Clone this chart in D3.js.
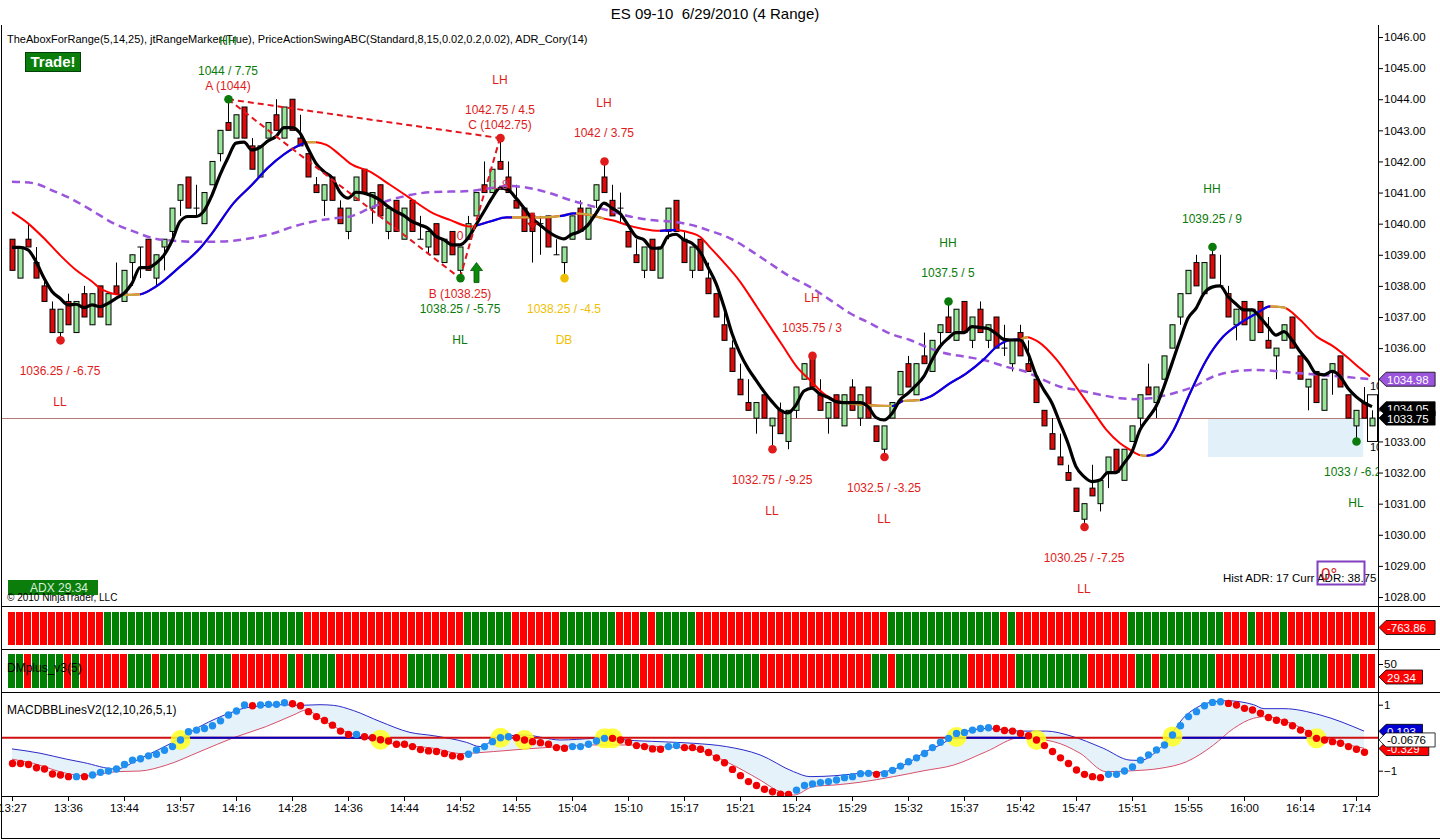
<!DOCTYPE html>
<html>
<head>
<meta charset="utf-8">
<title>ES 09-10 6/29/2010 (4 Range)</title>
<script src="https://cdn.jsdelivr.net/npm/d3@7"></script>
<style>
  body { margin: 0; background: #fff; }
  svg { display: block; }
</style>
</head>
<body>
<div id="chart"></div>
<script>
// ---- bars (4 range) ----
const opens = [
  1039.5,1038.25,1039.5,1038.75,1038,1037.25,1036.5,1037.5,1036.5,1037.75,
  1036.75,1038,1036.75,1038,1037.5,1038.75,1039.25,1039.5,1038.25,1039.25,
  1039.75,1040.75,1041.5,1040.5,1040,1041.25,1042.25,1043.25,1042.75,1043.75,
  1042.5,1041.5,1042.75,1043.5,1042.75,1044,1042.75,1042.25,1041.25,1040.75,
  1041.5,1040.5,1039.75,1040.75,1041.75,1040.5,1041.25,1039.75,1040.75,1039.5,
  1040.75,1039.5,1039.25,1040,1038.75,1039.75,1038.5,1039.5,1040.25,1041.25,
  1041,1042,1041.5,1040.75,1040.5,1040.25,1040,1040.25,1039,1038.75,
  1039.5,1040.5,1039.5,1040.75,1041.5,1040.75,1040.5,1039.75,1039,1038.5,
  1039.5,1038.25,1039.75,1040.75,1039.5,1038.5,1039.5,1038.25,1037.75,1036.75,
  1036,1035,1034.25,1033.75,1034.5,1033.5,1034,1033,1034,1035,
  1035.75,1034.5,1033.75,1034.5,1033.5,1034.75,1033.75,1034.75,1033.5,1032.75,
  1033.75,1034.5,1035.5,1034.5,1035.75,1035.25,1036.5,1037,1036.25,1037.5,
  1036.25,1037.25,1036.25,1037,1036,1035.5,1036.5,1035.5,1035,1034,
  1033.25,1032.5,1032,1031.5,1030.5,1031.5,1031,1032,1032.75,1031.75,
  1033,1033.75,1034.75,1034.25,1035,1036,1037,1037.75,1038.75,1037.75,
  1039,1038,1037.75,1036.75,1037.5,1036.25,1037.5,1036.25,1035.75,1036.25,
  1037,1035.75,1034.75,1035.25,1034,1035.25,1035.75,1034.5,1033.5,1034.25,
  1033.5
];
const highs = [
  1039.5,1039.25,1040,1039.25,1038.25,1037.5,1037.25,1037.75,1037.5,1038,
  1037.75,1038,1037.75,1038.75,1038.5,1039,1039.25,1039.5,1039,1039.5,
  1040.5,1041.25,1041.5,1041.25,1041,1042,1043,1044,1043.5,1043.75,
  1042.75,1042.5,1043.25,1044,1043.75,1044,1043.5,1042.25,1041.5,1041.25,
  1041.5,1040.75,1040.5,1041.5,1041.75,1041,1041.25,1040.5,1040.75,1040.5,
  1040.75,1040.25,1039.75,1040,1039.5,1039.75,1039.25,1040.25,1041,1042,
  1041.75,1042.75,1042,1041.25,1040.5,1040.25,1040.25,1040.25,1039.5,1039.25,
  1040.25,1040.75,1040.5,1041.25,1042,1041.25,1041,1039.75,1039.5,1039.25,
  1039.5,1039.25,1040.5,1040.75,1039.75,1039.25,1039.5,1038.75,1037.75,1037.25,
  1036.25,1035.5,1035,1034.25,1034.5,1033.75,1034.25,1034,1034.75,1035.5,
  1035.75,1035,1034.25,1034.5,1034.5,1035,1034.5,1034.75,1033.5,1033.5,
  1034.25,1035.25,1035.75,1035.5,1036.5,1036.25,1036.75,1037.5,1037.25,1037.5,
  1037,1037.5,1036.75,1037,1036.75,1036.25,1036.75,1036.25,1035,1034,
  1033.75,1033.25,1032.25,1031.5,1031,1032.25,1031.75,1032.5,1032.75,1032.75,
  1033.5,1034.5,1035.5,1034.75,1035.75,1036.75,1037.75,1038.5,1039,1038.75,
  1039.25,1039,1038,1037.25,1037.5,1037.25,1037.5,1037,1036,1036.75,
  1037,1035.75,1035,1035.25,1035,1035.5,1035.75,1034.5,1034,1034.75,
  1034
];
const lows = [
  1038.5,1038.25,1039.25,1038.25,1037.5,1036.5,1036.25,1036.75,1036.5,1037,
  1036.75,1037,1036.75,1037.75,1037.5,1038,1038.25,1038.5,1038,1038.5,
  1039.5,1040.25,1040.5,1040.25,1040,1041.25,1042,1043,1042.75,1042.75,
  1041.75,1041.5,1042.75,1043,1042.75,1043,1042.5,1041.5,1041,1040.25,
  1040.75,1040,1039.5,1040.75,1041,1040,1040.25,1039.5,1039.75,1039.5,
  1039.75,1039.5,1039,1039,1038.75,1039,1038.25,1039.5,1040.25,1041,
  1041,1041.75,1041,1040.5,1039.75,1038.75,1039,1039.25,1039,1038.25,
  1039.5,1039.75,1039.5,1040.5,1041,1040.25,1040,1039.25,1038.75,1038.25,
  1038.5,1038.25,1039.5,1039.75,1038.75,1038.25,1038.5,1037.75,1037,1036.25,
  1035.25,1034.5,1034,1033.25,1033.75,1032.75,1033.25,1032.75,1033.75,1035,
  1034.75,1034,1033.25,1033.75,1033.5,1034,1033.5,1033.75,1033,1032.5,
  1033.75,1034.5,1034.75,1034.5,1035.5,1035.25,1036,1036.5,1036.25,1036.5,
  1036,1036.5,1036,1036,1035.75,1035.25,1035.75,1035.25,1034.25,1033.5,
  1032.75,1032.25,1031.75,1030.75,1030.25,1031.25,1030.75,1031.5,1032,1031.75,
  1033,1033.5,1034.5,1033.75,1035,1036,1036.75,1037.75,1038,1037.75,
  1038.25,1038,1037,1036.25,1036.75,1036.25,1036.5,1036,1035,1036.25,
  1036,1035,1034,1034.25,1034,1034.5,1034.75,1033.75,1033,1033.75,
  1033.5
];
const closes = [
  1038.5,1039.25,1039.25,1038.25,1037.5,1036.5,1037.25,1036.75,1037.5,1037,
  1037.75,1037,1037.75,1037.75,1038.5,1039,1039.25,1038.5,1039,1039.5,
  1040.5,1041.25,1040.5,1040.5,1041,1042,1043,1043,1043.5,1042.75,
  1041.75,1042.5,1043.25,1043,1043.75,1043,1042.5,1041.5,1041,1041.25,
  1040.75,1040,1040.5,1041.5,1041,1041,1040.25,1040.5,1039.75,1040.5,
  1039.75,1039.5,1039.75,1039,1039.5,1039,1039.25,1040,1041,1041,
  1041.75,1041.75,1041,1040.5,1039.75,1039.75,1040,1039.25,1039,1039.25,
  1040.25,1039.75,1040.5,1041.25,1041,1040.25,1040.5,1039.25,1038.75,1039.25,
  1038.5,1039.25,1040.5,1039.75,1038.75,1039.25,1038.5,1037.75,1037,1036.25,
  1035.25,1034.5,1034,1034.25,1033.75,1033.75,1033.25,1034,1034.75,1035.5,
  1034.75,1034,1034.25,1033.75,1034.5,1034,1034.5,1033.75,1033,1033.5,
  1034.25,1035.25,1034.75,1035.5,1035.5,1036.25,1036.75,1036.5,1037.25,1036.5,
  1037,1036.5,1036.75,1036,1036,1036.25,1035.75,1035.25,1034.25,1033.5,
  1032.75,1032.25,1031.75,1030.75,1031,1031.25,1031.75,1032.5,1032,1032.75,
  1033.5,1034.5,1034.5,1034.75,1035.75,1036.75,1037.75,1038.5,1038,1038.75,
  1038.25,1038,1037,1037.25,1036.75,1037.25,1036.5,1036,1036,1036.75,
  1036,1035,1035,1034.25,1035,1035.5,1034.75,1033.75,1034,1033.75,
  1033.75
];

// ---- price indicators: [bar index, price] ----
const fastMA = [
  [0,1039.24],[1,1039.24],[2,1039.16],[3,1038.78],[4,1038.25],[5,1037.82],[6,1037.6],[7,1037.39],[8,1037.41],[9,1037.3],
  [10,1037.39],[11,1037.33],[12,1037.44],[13,1037.6],[14,1037.76],[15,1038.08],[16,1038.59],[17,1038.59],[18,1038.73],[19,1038.99],
  [20,1039.45],[21,1040.07],[22,1040.23],[23,1040.23],[24,1040.41],[25,1040.92],[26,1041.57],[27,1042.12],[28,1042.59],[29,1042.62],
  [30,1042.37],[31,1042.45],[32,1042.66],[33,1042.8],[34,1043.09],[35,1043.09],[36,1042.91],[37,1042.42],[38,1041.94],[39,1041.67],
  [40,1041.48],[41,1041.01],[42,1040.82],[43,1041.01],[44,1040.98],[46,1040.76],[47,1040.55],[48,1040.39],[49,1040.26],
  [50,1040.07],[51,1039.96],[52,1039.85],[53,1039.59],[54,1039.48],[55,1039.32],[56,1039.32],[57,1039.53],[58,1039.96],[59,1040.39],
  [60,1040.82],[61,1041.14],[62,1041.09],[63,1040.82],[64,1040.5],[65,1040.17],[66,1039.96],[67,1039.75],[68,1039.59],[69,1039.51],
  [70,1039.66],[71,1039.75],[72,1039.96],[73,1040.33],[74,1040.66],[75,1040.5],[76,1040.33],[77,1039.96],[78,1039.59],[79,1039.48],
  [80,1039.21],[81,1039.21],[82,1039.59],[83,1039.66],[84,1039.48],[85,1039.37],[86,1039.1],[87,1038.6],[88,1038.08],[89,1037.33],
  [90,1036.47],[91,1035.83],[92,1035.35],[93,1034.97],[94,1034.6],[95,1034.28],[96,1034.01],[97,1033.92],[98,1034.17],[99,1034.62],
  [100,1034.71],[101,1034.52],[102,1034.42],[103,1034.28],[104,1034.25],[105,1034.25],[106,1034.25],[107,1034.12],[108,1033.77],[109,1033.69],
  [110,1033.9],[111,1034.33],[112,1034.55],[113,1034.8],[114,1035.1],[115,1035.62],[116,1036.05],[117,1036.31],[118,1036.5],[119,1036.5],
  [120,1036.69],[121,1036.66],[122,1036.63],[123,1036.47],[124,1036.28],[125,1036.26],[126,1036.26],[127,1035.83],[128,1035.13],[129,1034.65],
  [130,1034.23],[131,1033.59],[132,1032.94],[133,1032.19],[134,1031.87],[135,1031.71],[136,1031.76],[137,1032.0],[138,1032.0],[139,1032.3],
  [140,1032.67],[141,1033.37],[142,1033.75],[143,1034.12],[144,1034.76],[145,1035.51],[146,1036.26],[147,1036.96],[148,1037.28],[149,1037.76],
  [150,1037.96],[151,1038.0],[152,1037.66],[153,1037.42],[154,1037.23],[155,1037.23],[156,1036.99],[157,1036.69],[158,1036.42],[159,1036.53],
  [160,1036.26],[161,1035.89],[162,1035.57],[163,1035.19],[164,1035.14],[165,1035.25],[166,1035.09],[167,1034.71],[168,1034.44],[169,1034.25],
  [170,1034.12]
];
const slowMA = [
  [0,1040.37],[2,1040.01],[4,1039.53],[6,1038.99],[8,1038.51],[10,1038.14],[11,1037.92],[12,1037.8],[13,1037.73],[14,1037.71],
  [16,1037.73],[18,1037.98],[21,1038.62],[23.5,1039.21],[25,1039.69],[27.7,1040.66],[30,1041.25],[32,1041.8],[34,1042.23],[36,1042.53],
  [37,1042.62],[38,1042.62],[39.3,1042.53],[41,1042.21],[42.25,1041.94],[44.75,1041.67],[47.25,1041.25],[49.75,1040.82],[52.25,1040.39],[54.75,1040.12],
  [57.25,1039.91],[59.75,1040.07],[61.8,1040.2],[63,1040.2],[66,1040.2],[68.9,1040.26],[70.2,1040.33],[72.25,1040.28],[73.9,1040.17],[75.6,1040.07],
  [76.8,1039.96],[78.9,1039.83],[81,1039.77],[83,1039.8],[84.75,1039.71],[86,1039.58],[87.25,1039.24],[88.9,1038.78],[91,1038.14],[93.1,1037.33],
  [94.75,1036.69],[96.4,1036.05],[98.1,1035.4],[99.75,1034.97],[101.4,1034.55],[103.5,1034.28],[106.8,1034.17],[110.1,1034.14],[111.4,1034.3],[113.5,1034.33],
  [114.75,1034.44],[117.25,1034.87],[119.3,1035.19],[121.4,1035.62],[123.1,1036.05],[124.75,1036.26],[126,1036.28],[126.9,1036.35],[128.3,1036.2],[130.6,1035.62],
  [132.7,1034.87],[134.75,1034.12],[136.8,1033.37],[138.5,1032.94],[139.75,1032.73],[141,1032.56],[141.8,1032.54],[143.5,1032.73],[145.2,1033.37],[147.25,1034.55],
  [149.3,1035.62],[151.4,1036.37],[153.5,1036.8],[155.6,1037.12],[157.25,1037.34],[158.9,1037.31],[161,1036.91],[163.1,1036.37],[165.2,1036.05],[166.8,1035.73],
  [168.5,1035.35],[169.75,1035.09]
];
// stretches where the slow average is drawn rising (blue) or flat (gold)
const slowRising = [[16,36.8],[58,62.5],[68.5,70.5],[81,83],[110,111.4],[113.5,126],[141.8,157.3]];
const slowFlat = [[13.5,16],[36.8,38],[57.5,58],[62.5,68.5],[70.5,74],[103.5,110],[111.4,113.5],[126,127],[141,141.8],[157.3,159.3]];
const longMA = [
  [0,1041.35],[2.7,1041.3],[5.2,1041.05],[7.7,1040.76],[10.2,1040.39],[12.7,1040.01],[15.2,1039.75],[17.7,1039.53],[20.2,1039.45],[22.7,1039.42],
  [25.2,1039.42],[27.7,1039.45],[30.2,1039.55],[32.7,1039.69],[35.2,1039.91],[37.7,1040.07],[40.2,1040.17],[42.25,1040.23],[44.75,1040.5],[47.25,1040.76],
  [49.75,1040.92],[52.25,1041.01],[54.75,1041.03],[57.25,1041.05],[59.75,1041.14],[62.25,1041.21],[64.75,1041.14],[67.25,1040.98],[69.75,1040.76],[72.25,1040.58],
  [74.75,1040.41],[77.25,1040.23],[79.75,1040.12],[82.25,1040.07],[84.75,1039.97],[87.25,1039.77],[89.75,1039.53],[92.25,1039.15],[94.75,1038.72],[97.25,1038.3],
  [99.75,1037.97],[102.25,1037.55],[104.75,1037.12],[107.25,1036.8],[109.75,1036.47],[112.25,1036.26],[114.75,1035.99],[116.4,1035.85],[119.25,1035.72],[121.75,1035.6],
  [124.25,1035.4],[126.75,1035.24],[128.5,1035.03],[131,1034.76],[133.5,1034.64],[136,1034.5],[138.5,1034.39],[140.2,1034.36],[142.25,1034.39],[145.2,1034.55],
  [147.7,1034.76],[150.2,1035.09],[152.7,1035.25],[155.6,1035.3],[158.5,1035.25],[161,1035.19],[163.5,1035.14],[166,1035.09],[168.5,1035.03],[170,1035.0]
];

// ---- swing points ----
const swings = [
  {i: 6, p: 1036.25, type: 'LL', text: '1036.25 / -6.75'},
  {i: 27, p: 1044, type: 'HH', text: '1044 / 7.75', abc: 'A (1044)'},
  {i: 56, p: 1038.25, type: 'HL', text: '1038.25 / -5.75', abc: 'B (1038.25)'},
  {i: 61, p: 1042.75, type: 'LH', text: '1042.75 / 4.5', abc: 'C (1042.75)'},
  {i: 69, p: 1038.25, type: 'DB', text: '1038.25 / -4.5'},
  {i: 74, p: 1042, type: 'LH', text: '1042 / 3.75'},
  {i: 95, p: 1032.75, type: 'LL', text: '1032.75 / -9.25'},
  {i: 100, p: 1035.75, type: 'LH', text: '1035.75 / 3'},
  {i: 109, p: 1032.5, type: 'LL', text: '1032.5 / -3.25'},
  {i: 117, p: 1037.5, type: 'HH', text: '1037.5 / 5'},
  {i: 134, p: 1030.25, type: 'LL', text: '1030.25 / -7.25'},
  {i: 150, p: 1039.25, type: 'HH', text: '1039.25 / 9'},
  {i: 168, p: 1033, type: 'HL', text: '1033 / -6.25'}
];
const ratioTexts = [[56, 1039.64, '0'], [61, 1041.28, '1.8']];
const upArrows = [[58, 1038.75]];
const downArrows = [[65, 1039.8]];
const rangeZone = {from: 149.5, to: 168.9, top: 1033.75, bottom: 1032.5};
const rangeBox = {i: 170, top: 1034.5, bottom: 1033.0};
const rangeTexts = [[170, 1034.77, '1034.5'], [170, 1032.83, '1033']];
const lastPrice = 1033.75;

// ---- lower panels ----
const trendRuns = [['R',12],['G',25],['R',20],['G',6],['R',6],['G',7],['R',3],['G',1],['R',1],['G',5],
  ['R',24],['G',14],['R',1],['G',1],['R',14],['G',12],['R',3],['G',1],['R',3],['G',1],['R',11]];
const dmRuns = [['G',2],['R',1],['G',4],['R',1],['G',1],['R',6],['G',3],['R',1],['G',5],['R',1],['G',3],['R',7],
  ['G',1],['R',1],['G',4],['R',9],['G',5],['R',1],['G',1],['R',1],['G',4],['R',3],['G',1],['R',4],['G',3],['R',2],
  ['G',4],['R',3],['G',4],['R',1],['G',7],['R',14],['G',2],['R',1],['G',9],['R',6],['G',9],['R',6],['G',2],['R',1],
  ['G',7],['R',7],['G',1],['R',2],['G',4],['R',3],['G',1],['R',2]];
const macd = [
  -0.78,-0.78,-0.81,-0.91,-0.95,-1.10,-1.13,-1.18,-1.18,-1.18,
  -1.13,-1.05,-1.01,-0.95,-0.81,-0.68,-0.64,-0.55,-0.50,-0.38,
  -0.27,-0.07,0.18,0.23,0.28,0.36,0.51,0.69,0.81,0.99,
  0.97,0.99,1.01,1.01,1.06,1.03,0.97,0.79,0.64,0.52,
  0.38,0.20,0.10,0.10,0.03,0.0,-0.06,-0.10,-0.20,-0.20,
  -0.27,-0.36,-0.40,-0.42,-0.48,-0.55,-0.58,-0.50,-0.37,-0.27,
  -0.12,0.0,0.03,0.0,-0.07,-0.12,-0.15,-0.20,-0.30,-0.32,
  -0.27,-0.27,-0.20,-0.10,-0.02,-0.02,-0.07,-0.14,-0.24,-0.27,
  -0.34,-0.35,-0.27,-0.24,-0.30,-0.30,-0.35,-0.45,-0.61,-0.76,
  -0.96,-1.15,-1.33,-1.45,-1.56,-1.64,-1.71,-1.72,-1.59,-1.45,
  -1.40,-1.36,-1.33,-1.28,-1.21,-1.18,-1.09,-1.08,-1.11,-1.09,
  -0.99,-0.86,-0.73,-0.61,-0.48,-0.30,-0.14,-0.02,0.13,0.16,
  0.23,0.28,0.30,0.28,0.22,0.20,0.13,0.06,-0.07,-0.24,
  -0.42,-0.61,-0.78,-0.98,-1.11,-1.18,-1.21,-1.11,-1.11,-1.01,
  -0.89,-0.68,-0.52,-0.37,-0.22,0.08,0.36,0.64,0.79,0.97,
  1.07,1.09,1.04,0.99,0.89,0.84,0.74,0.61,0.53,0.47,
  0.36,0.23,0.13,-0.02,-0.07,-0.12,-0.17,-0.27,-0.35,-0.44
];
const macdRuns = [['R',8],['B',1],['R',1],['B',20],['R',1],['B',4],['R',8],['B',1],['R',13],['B',6],['R',7],
  ['B',5],['R',7],['B',2],['R',14],['B',10],['R',1],['B',14],['R',14],['B',15],['R',18]];
const upperBand = [
  [0,-0.34],[3.5,-0.47],[6.8,-0.65],[8.9,-0.75],[13,-0.95],[16,-0.63],[21,-0.02],[23.5,0.34],[27.7,0.79],[29.3,0.91],
  [34,1.0],[36,0.98],[38.5,1.0],[40.2,0.98],[42.7,0.82],[46,0.49],[49.75,0.16],[52.7,0.06],[56.8,-0.14],[58.5,-0.27],
  [61,0.03],[64.3,0.08],[66.4,0.0],[68.5,-0.07],[72.7,-0.02],[74.75,0.0],[76.8,-0.07],[81,-0.12],[85.2,-0.17],[89.3,-0.27],
  [93.5,-0.52],[97.7,-1.03],[99.75,-1.18],[103,-1.15],[106,-1.08],[108.5,-1.05],[112.25,-0.73],[114,-0.45],[116,-0.22],[118.5,0.13],
  [121.8,0.28],[126,0.20],[129.3,0.20],[132.25,0.06],[136.4,-0.32],[139.75,-0.68],[141,-0.69],[143.5,-0.32],[146.8,0.69],[150.2,1.09],
  [151.8,1.12],[155.2,1.0],[156.5,0.88],[159,0.88],[163.5,0.69],[169,0.20]
];
const lowerBand = [
  [0,-0.65],[2.7,-0.78],[6.8,-1.08],[9.3,-1.16],[13,-1.03],[16,-1.01],[19.3,-0.83],[23.5,-0.42],[27.7,0.0],[31.8,0.34],
  [35.2,0.69],[36.8,0.84],[38.5,0.59],[40.2,0.34],[42.7,0.10],[45.2,-0.07],[48.5,-0.22],[52.7,-0.32],[56,-0.48],[60.2,-0.42],
  [64.3,-0.34],[68.5,-0.27],[72.7,-0.22],[76.8,-0.22],[81,-0.27],[85.2,-0.34],[89.3,-0.73],[93.5,-1.28],[96,-1.64],[97.7,-1.74],
  [100.2,-1.48],[103,-1.43],[106,-1.35],[110.2,-1.18],[114,-1.0],[117.7,-0.83],[121.8,-0.42],[126,0.0],[130.2,-0.12],[133.5,-0.47],
  [136.8,-1.03],[140.2,-1.0],[143.5,-0.93],[146.8,-0.73],[150.2,-0.22],[152.7,0.28],[155.2,0.59],[156.8,0.64],[159.3,0.49],[163.5,0.03],
  [169,-0.32]
];
const zeroAbove = [[21,45.6],[117.5,128],[145,163]];
const crossings = [[21,-0.07],[46,-0.06],[61,0.0],[64,-0.07],[74,-0.02],[75,-0.02],[118,0.02],[128,-0.07],[145,0.04],[163,-0.02]];

// ---- axis labels ----
const timeTicks = [0,7,14,21,28,35,42,49,56,63,70,77,84,91,98,105,112,119,126,133,140,147,154,161,168];
const timeLabels = ['13:27','13:36','13:44','13:57','14:16','14:28','14:36','14:44','14:52','14:55','15:04','15:10',
  '15:17','15:21','15:24','15:29','15:32','15:37','15:42','15:47','15:51','15:55','16:00','16:14','17:14'];
const priceTicks = [1028,1029,1030,1031,1032,1033,1034,1035,1036,1037,1038,1039,1040,1041,1042,1043,1044,1045,1046];

// ---------------------------------------------------------------
const width = 1440, height = 840;
const plotLeft = 1, plotRight = 1378;
const priceTop = 28, priceBottom = 605;
const p1Top = 606, p1Bottom = 649, p2Bottom = 692, macdBottom = 796;
const font = '"Liberation Sans", Arial, sans-serif';

const x = d3.scaleLinear().domain([0, 170]).range([12, 1372]);
const y = d3.scaleLinear().domain([1028, 1046]).range([597, 37]);
const ym = d3.scaleLinear().domain([-1, 1]).range([770.7, 704.7]);
const yadx = d3.scaleLinear().domain([0, 50]).range([695.5, 664]);

const expand = runs => runs.flatMap(([c, n]) => Array(n).fill(c));
const trendCol = expand(trendRuns);
const dmCol = expand(dmRuns);
const macdCol = expand(macdRuns);

const svg = d3.select('#chart').append('svg')
  .attr('width', width).attr('height', height)
  .attr('font-family', font).attr('font-size', 11);
const defs = svg.append('defs');
let clipCount = 0;
const clipRect = (x0, y0, x1, y1) => {
  const id = 'clip' + (clipCount++);
  defs.append('clipPath').attr('id', id).append('rect')
    .attr('x', x0).attr('y', y0).attr('width', x1 - x0).attr('height', y1 - y0);
  return `url(#${id})`;
};

svg.append('rect').attr('width', width).attr('height', height).attr('fill', '#fff');

// title + header
svg.append('text').attr('x', 715).attr('y', 19).attr('text-anchor', 'middle').attr('font-size', 15)
  .text('ES 09-10  6/29/2010 (4 Range)').attr('xml:space', 'preserve');

// ---- price panel ----
const price = svg.append('g').attr('clip-path', clipRect(plotLeft, priceTop, plotRight, priceBottom));

price.append('rect')
  .attr('x', x(rangeZone.from)).attr('width', x(rangeZone.to) - x(rangeZone.from))
  .attr('y', y(rangeZone.top)).attr('height', y(rangeZone.bottom) - y(rangeZone.top))
  .attr('fill', '#e2f0f9');

price.append('line').attr('x1', plotLeft).attr('x2', plotRight)
  .attr('y1', Math.round(y(lastPrice)) + 0.5).attr('y2', Math.round(y(lastPrice)) + 0.5)
  .attr('stroke', '#b77a78').attr('stroke-width', 1);

price.append('text').attr('x', 7).attr('y', 43).attr('font-size', 11)
  .text('TheAboxForRange(5,14,25), jtRangeMarker(True), PriceActionSwingABC(Standard,8,15,0.02,0.2,0.02), ADR_Cory(14)');

// range projection box around the live bar
price.append('rect')
  .attr('x', x(rangeBox.i) - 4.5).attr('width', 10)
  .attr('y', y(rangeBox.top)).attr('height', y(rangeBox.bottom) - y(rangeBox.top))
  .attr('fill', '#fff').attr('stroke', '#000');

// candles
const bars = opens.map((o, i) => ({i, o, h: highs[i], l: lows[i], c: closes[i]}));
const candle = price.append('g').selectAll('g').data(bars).join('g');
candle.append('line')
  .attr('x1', d => x(d.i) + 0.5).attr('x2', d => x(d.i) + 0.5)
  .attr('y1', d => y(d.h)).attr('y2', d => y(d.l))
  .attr('stroke', '#000').attr('stroke-width', 1);
candle.append('rect')
  .attr('x', d => x(d.i) - 2).attr('width', 5)
  .attr('y', d => y(Math.max(d.o, d.c)))
  .attr('height', d => Math.max(0.01, y(Math.min(d.o, d.c)) - y(Math.max(d.o, d.c))))
  .attr('fill', d => d.c > d.o ? '#98e698' : d.c < d.o ? '#dc0c0c' : '#000')
  .attr('stroke', '#000').attr('stroke-width', 1);

// moving averages
const pLine = d3.line().x(d => x(d[0])).y(d => y(d[1])).curve(d3.curveMonotoneX);
price.append('path').attr('d', pLine(longMA)).attr('fill', 'none')
  .attr('stroke', '#9b55dc').attr('stroke-width', 2.5).attr('stroke-dasharray', '8,5');
price.append('path').attr('d', pLine(slowMA)).attr('fill', 'none')
  .attr('stroke', '#f00').attr('stroke-width', 2);
const overlay = (ranges, color) => ranges.forEach(([a, b]) => {
  price.append('path').attr('d', pLine(slowMA)).attr('fill', 'none')
    .attr('stroke', color).attr('stroke-width', 2.2)
    .attr('clip-path', clipRect(x(a), priceTop, x(b), priceBottom));
});
overlay(slowRising, '#0000ee');
overlay(slowFlat, '#cca43a');
price.append('path').attr('d', pLine(fastMA)).attr('fill', 'none')
  .attr('stroke', '#000').attr('stroke-width', 3.2).attr('stroke-linejoin', 'round');

// ABC swing structure
const byAbc = k => swings.find(s => s.abc && s.abc[0] === k);
const A = byAbc('A'), B = byAbc('B'), C = byAbc('C');
[[A, C], [A, B], [B, C]].forEach(([s, t]) => {
  price.append('line').attr('x1', x(s.i)).attr('y1', y(s.p)).attr('x2', x(t.i)).attr('y2', y(t.p))
    .attr('stroke', '#e4141c').attr('stroke-width', 2).attr('stroke-dasharray', '6,4');
});

const swingColor = {HH: '#0a7a0a', HL: '#0a7a0a', LH: '#e01b1b', LL: '#e01b1b', DB: '#f0c000'};
const isHigh = t => t === 'HH' || t === 'LH';
swings.forEach(s => {
  const cx = x(s.i), cy = y(s.p), col = swingColor[s.type];
  price.append('circle').attr('cx', cx + 0.5).attr('cy', cy).attr('r', 4.3).attr('fill', col);
  const lbl = (dy, txt, c) => price.append('text').attr('x', cx).attr('y', cy + dy + 4)
    .attr('text-anchor', 'middle').attr('font-size', 12).attr('fill', c).text(txt);
  if (isHigh(s.type)) {
    lbl(-58, s.type, col);
    lbl(-28, s.text, col);
    if (s.abc) lbl(-13, s.abc, '#e01b1b');
  } else {
    if (s.abc) lbl(16, s.abc, '#e01b1b');
    lbl(31, s.text, col);
    lbl(62, s.type, col);
  }
});
ratioTexts.forEach(([i, p, t], k) => {
  price.append('text').attr('x', x(i)).attr('y', y(p) + 5).attr('text-anchor', 'middle')
    .attr('font-size', 12).attr('fill', k === 0 ? '#e01b1b' : '#c8407a').text(t);
});
upArrows.forEach(([i, p]) => {
  const cx = x(i) + 0.5, ty = y(p);
  price.append('path').attr('d', `M${cx},${ty}L${cx + 6},${ty + 8}H${cx + 2.5}V${ty + 20}H${cx - 2.5}V${ty + 8}H${cx - 6}Z`)
    .attr('fill', '#0a8a0a').attr('stroke', '#055005').attr('stroke-width', 0.8);
});
downArrows.forEach(([i, p]) => {
  const cx = x(i) + 0.5, ty = y(p);
  price.append('path').attr('d', `M${cx},${ty}L${cx + 5},${ty - 7}H${cx + 2}V${ty - 17}H${cx - 2}V${ty - 7}H${cx - 5}Z`)
    .attr('fill', '#e01010').attr('stroke', '#900').attr('stroke-width', 0.6);
});
rangeTexts.forEach(([i, p, t]) => {
  price.append('text').attr('x', x(i) - 2).attr('y', y(p) + 4).attr('font-size', 11).text(t);
});

// Trade! box, ADX box, ADR text
price.append('rect').attr('x', 25.5).attr('y', 52.5).attr('width', 55).attr('height', 19)
  .attr('fill', '#0a7d0a').attr('stroke', '#03400a');
price.append('text').attr('x', 53).attr('y', 67).attr('text-anchor', 'middle')
  .attr('font-size', 15).attr('font-weight', 'bold').attr('fill', '#fff').text('Trade!');
price.append('rect').attr('x', 8).attr('y', 580).attr('width', 90).attr('height', 15).attr('fill', '#0a7d0a');
price.append('text').attr('x', 30).attr('y', 592).attr('font-size', 12).attr('fill', '#d8f0d8').text('ADX 29.34');
price.append('text').attr('x', 7).attr('y', 601).attr('font-size', 10).text('© 2010 NinjaTrader, LLC');
price.append('text').attr('x', 1223).attr('y', 582).attr('font-size', 11.5).text('Hist ADR: 17 Curr ADR: 38.75');
price.append('text').attr('x', 1321).attr('y', 580).attr('font-size', 17).attr('fill', '#d01818').text('0°');
price.append('rect').attr('x', 1317.5).attr('y', 561.5).attr('width', 47).attr('height', 23)
  .attr('fill', 'none').attr('stroke', '#8040c0').attr('stroke-width', 2);

// ---- color bar panels ----
svg.append('g').selectAll('rect').data(trendCol).join('rect')
  .attr('x', (d, i) => x(i) - 4).attr('width', 7).attr('y', 612).attr('height', 33)
  .attr('fill', d => d === 'G' ? '#008000' : '#ff0000');
svg.append('g').selectAll('rect').data(dmCol).join('rect')
  .attr('x', (d, i) => x(i) - 4).attr('width', 7).attr('y', 654).attr('height', 34)
  .attr('fill', d => d === 'G' ? '#008000' : '#ff0000');
svg.append('text').attr('x', 7).attr('y', 672).attr('font-size', 12).text('DMplus_v3(5)');

// ---- MACD panel ----
const mac = svg.append('g').attr('clip-path', clipRect(plotLeft, p2Bottom, plotRight, macdBottom));
const bLine = d3.line().x(d => x(d[0])).y(d => ym(d[1])).curve(d3.curveMonotoneX);
mac.append('path')
  .attr('d', bLine(upperBand) + 'L' + bLine(lowerBand.slice().reverse()).slice(1) + 'Z')
  .attr('fill', '#e6f2fa');
mac.append('path').attr('d', bLine(upperBand)).attr('fill', 'none').attr('stroke', '#2a2ac8').attr('stroke-width', 1);
mac.append('path').attr('d', bLine(lowerBand)).attr('fill', 'none').attr('stroke', '#d8506a').attr('stroke-width', 1);
mac.append('line').attr('x1', plotLeft).attr('x2', plotRight).attr('y1', ym(0)).attr('y2', ym(0))
  .attr('stroke', '#d01010').attr('stroke-width', 2);
zeroAbove.forEach(([a, b]) => {
  mac.append('line').attr('x1', x(a)).attr('x2', x(b)).attr('y1', ym(0)).attr('y2', ym(0))
    .attr('stroke', '#0000c0').attr('stroke-width', 2);
});
mac.append('g').selectAll('circle').data(crossings).join('circle')
  .attr('cx', d => x(d[0]) + 0.5).attr('cy', d => ym(d[1])).attr('r', 10)
  .attr('fill', '#ffff20').attr('opacity', 0.85);
mac.append('g').selectAll('circle').data(macd).join('circle')
  .attr('cx', (d, i) => x(i) + 0.5).attr('cy', d => ym(d)).attr('r', 3.7)
  .attr('fill', (d, i) => macdCol[i] === 'B' ? '#2090f0' : '#f00000');
svg.append('text').attr('x', 7).attr('y', 714).attr('font-size', 12).text('MACDBBLinesV2(12,10,26,5,1)');

// ---- frame & separators ----
const frame = svg.append('g').attr('stroke', '#000').attr('stroke-width', 1).attr('shape-rendering', 'crispEdges');
[p1Top, p1Bottom, p2Bottom].forEach(v => frame.append('line').attr('x1', plotLeft).attr('x2', width).attr('y1', v).attr('y2', v));
frame.append('line').attr('x1', plotLeft).attr('x2', plotRight).attr('y1', macdBottom).attr('y2', macdBottom);
frame.append('line').attr('x1', plotLeft).attr('x2', width).attr('y1', 838).attr('y2', 838);
frame.append('line').attr('x1', plotLeft).attr('x2', plotLeft).attr('y1', 25).attr('y2', 838);
frame.append('line').attr('x1', plotRight).attr('x2', plotRight).attr('y1', 25).attr('y2', macdBottom);

// ---- axes ----
const styleAxis = g => {
  g.select('.domain').remove();
  g.selectAll('text').attr('font-family', font).attr('font-size', 11.5).attr('fill', '#000');
  g.selectAll('line').attr('stroke', '#000');
};
svg.append('g').attr('transform', `translate(${plotRight},0)`)
  .call(d3.axisRight(y).tickValues(priceTicks).tickFormat(d3.format('.2f')).tickSize(5).tickPadding(1))
  .call(styleAxis);
svg.append('g').attr('transform', `translate(${plotRight},0)`)
  .call(d3.axisRight(yadx).tickValues([50]).tickFormat(d3.format('d')).tickSize(5).tickPadding(1))
  .call(styleAxis);
svg.append('g').attr('transform', `translate(${plotRight},0)`)
  .call(d3.axisRight(ym).tickValues([-1, 1]).tickFormat(d3.format('d')).tickSize(5).tickPadding(1))
  .call(styleAxis);
svg.append('g').attr('transform', `translate(0,${macdBottom})`)
  .call(d3.axisBottom(x).tickValues(timeTicks).tickFormat((d, i) => timeLabels[i]).tickSize(5).tickPadding(3))
  .call(styleAxis);

// ---- value flags on the right ----
const flag = (yv, label, bg, fg) => {
  const w = label.length * 6.3 + 5;
  const g = svg.append('g');
  g.append('path').attr('d', `M1379,${yv}L1386,${yv - 7}H${1386 + w}V${yv + 7}H1386Z`)
    .attr('fill', bg).attr('stroke', '#000').attr('stroke-width', 0.8);
  g.append('text').attr('x', 1387).attr('y', yv + 4.5).attr('font-size', 11.5).attr('fill', fg).text(label);
};
flag(y(longMA[longMA.length - 1][1]), '1034.98', '#9b55dc', '#fff');
flag(y(1034.05), '1034.05', '#000', '#fff');
flag(y(lastPrice), '1033.75', '#000', '#fff');
flag((p1Top + p1Bottom) / 2, '-763.86', '#f00', '#fff');
flag(yadx(29.34), '29.34', '#f00', '#fff');
flag(ym(0.193), '0.193', '#0000d0', '#fff');
flag(ym(-0.329), '-0.329', '#f00', '#fff');
flag(ym(-0.0676), '-0.0676', '#fff', '#000');
</script>
</body>
</html>
